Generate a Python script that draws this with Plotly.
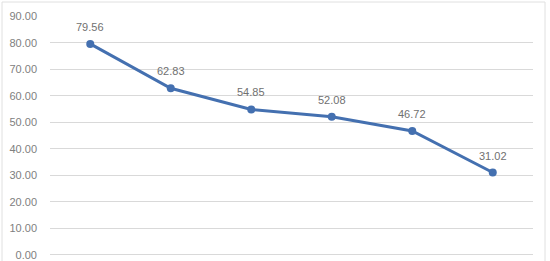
import plotly.graph_objects as go

categories = ["A", "B", "C", "D", "E", "F"]
values = [79.56, 62.83, 54.85, 52.08, 46.72, 31.02]
y_ticks = [0, 10, 20, 30, 40, 50, 60, 70, 80, 90]

fig = go.Figure()
fig.add_trace(go.Scatter(
    x=categories, y=values,
    mode="lines+markers",
    line=dict(color="#4470B0", width=3),
    marker=dict(color="#4470B0", size=8),
    cliponaxis=False,
))
for c, v in zip(categories, values):
    fig.add_annotation(x=c, y=v, text=f"{v:.2f}", showarrow=False,
                       yshift=17, font=dict(color="#707070", size=11,
                                            family="Liberation Sans"))

fig.update_layout(
    width=550, height=261,
    margin=dict(l=50, r=17, t=16, b=6, autoexpand=False),
    plot_bgcolor="white", paper_bgcolor="white",
    showlegend=False,
    font=dict(family="Liberation Sans", size=11, color="#808080"),
    xaxis=dict(type="category", range=[-0.5, 5.5], showticklabels=False,
               showgrid=False, zeroline=False, showline=False, ticks="",
               automargin=False),
    yaxis=dict(range=[-0.1, 90.1], tickvals=y_ticks, tickformat=".2f",
               showgrid=True, gridcolor="#d9d9d9", gridwidth=1,
               zeroline=True, zerolinecolor="#d9d9d9", zerolinewidth=1,
               showline=False, ticks="", automargin=False,
               ticklabelstandoff=12, ticklabeloverflow="allow"),
)
fig.add_shape(type="rect", xref="paper", yref="paper",
              x0=-48/483, x1=495/483, y0=-10/239, y1=(239+14)/239,
              line=dict(color="#e0e0e0", width=1), fillcolor="rgba(0,0,0,0)",
              layer="below")

fig.write_html("out.html")
